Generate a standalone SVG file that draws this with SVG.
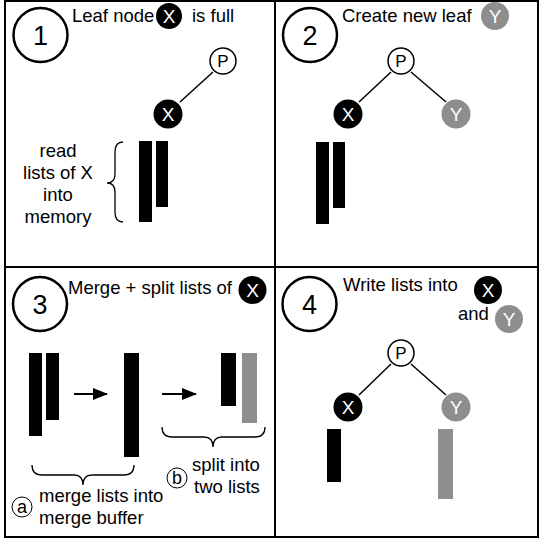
<svg xmlns="http://www.w3.org/2000/svg" width="539" height="539" viewBox="0 0 539 539">
  <style>
    text { font-family: "Liberation Sans", Arial, Helvetica, sans-serif; fill: #000; }
    .frame { fill: none; stroke: #000; stroke-width: 2; }
    .step { fill: #fff; stroke: #000; stroke-width: 2.5; }
    .stepnum { font-size: 27px; text-anchor: middle; }
    .label { font-size: 18.5px; }
    .mid { text-anchor: middle; }
    .nx { fill: #000; }
    .ny { fill: #8e8e8e; }
    .np { fill: #fff; stroke: #000; stroke-width: 1.5; }
    .nt { font-size: 19px; text-anchor: middle; fill: #fff; }
    .ptxt { font-size: 17px; text-anchor: middle; fill: #000; }
    .edge { stroke: #000; stroke-width: 1.5; fill: none; }
    .flow { stroke: #000; stroke-width: 2; fill: none; }
    .brace { stroke: #000; stroke-width: 1.3; fill: none; }
    .barx { fill: #000; }
    .bary { fill: #8e8e8e; }
    .tag { fill: #fff; stroke: #000; stroke-width: 1; }
    .tagt { font-size: 18px; text-anchor: middle; }
  </style>
  <defs>
    <marker id="arrow" markerWidth="15" markerHeight="12" refX="14" refY="6" orient="auto" markerUnits="userSpaceOnUse">
      <path d="M0,0 L15,6 L0,12 z" fill="#000"/>
    </marker>
  </defs>

  <rect width="539" height="539" fill="#fff"/>

  <!-- panel frame -->
  <g id="frame">
    <rect class="frame" x="5" y="1" width="533" height="536"/>
    <line class="frame" x1="275" y1="1" x2="275" y2="537"/>
    <line class="frame" x1="5" y1="267" x2="538" y2="267"/>
  </g>

  <!-- tree edges and flow arrows -->
  <g id="connectors">
    <line class="edge" x1="213" y1="72" x2="180" y2="102"/>
    <line class="edge" x1="391" y1="72" x2="359" y2="102"/>
    <line class="edge" x1="411" y1="72" x2="446" y2="102"/>
    <line class="edge" x1="391" y1="364" x2="359" y2="395"/>
    <line class="edge" x1="411" y1="364" x2="446" y2="395"/>
    <line class="flow" x1="74" y1="394" x2="107" y2="394" marker-end="url(#arrow)"/>
    <line class="flow" x1="162" y1="394" x2="196" y2="394" marker-end="url(#arrow)"/>
  </g>

  <!-- step 1 -->
  <g id="panel1">
    <circle class="step" cx="40.5" cy="35" r="27"/>
    <text class="stepnum" x="40.5" y="44.5">1</text>
    <text class="label" x="72" y="22">Leaf node</text>
    <circle class="nx" cx="169" cy="16" r="13"/>
    <text class="nt" x="169" y="23">X</text>
    <text class="label" x="192" y="22">is full</text>
    <g id="p1-P">
      <circle class="np" cx="223" cy="61" r="13"/>
      <text class="ptxt" x="223" y="67">P</text>
    </g>
    <g id="p1-X">
      <circle class="nx" cx="168" cy="114" r="14.5"/>
      <text class="nt" x="168" y="121">X</text>
    </g>
    <rect class="barx" x="139" y="141" width="13" height="81"/>
    <rect class="barx" x="156" y="141" width="12" height="66"/>
    <path class="brace" d="M123,142 Q115,142 115,152 L115,174 Q115,183 107,183 Q115,183 115,192 L115,212 Q115,222 123,222"/>
    <text class="label mid" x="58" y="157">read</text>
    <text class="label mid" x="58" y="179">lists of X</text>
    <text class="label mid" x="58" y="201">into</text>
    <text class="label mid" x="58" y="223">memory</text>
  </g>

  <!-- step 2 -->
  <g id="panel2">
    <circle class="step" cx="310" cy="35" r="27"/>
    <text class="stepnum" x="310" y="44.5">2</text>
    <text class="label" x="342" y="22">Create new leaf</text>
    <circle class="ny" cx="495" cy="16" r="14"/>
    <text class="nt" x="495" y="23">Y</text>
    <g id="p2-P">
      <circle class="np" cx="401" cy="61" r="13"/>
      <text class="ptxt" x="401" y="67">P</text>
    </g>
    <g id="p2-X">
      <circle class="nx" cx="348" cy="114" r="14.5"/>
      <text class="nt" x="348" y="121">X</text>
    </g>
    <g id="p2-Y">
      <circle class="ny" cx="456" cy="114" r="14.5"/>
      <text class="nt" x="456" y="121">Y</text>
    </g>
    <rect class="barx" x="316" y="142" width="13" height="82"/>
    <rect class="barx" x="333" y="142" width="12" height="66"/>
  </g>

  <!-- step 3 -->
  <g id="panel3">
    <circle class="step" cx="40" cy="304" r="27"/>
    <text class="stepnum" x="40" y="313.5">3</text>
    <text class="label" x="68" y="294">Merge + split lists of</text>
    <circle class="nx" cx="252.5" cy="290" r="14"/>
    <text class="nt" x="252.5" y="297">X</text>
    <rect class="barx" x="29" y="353" width="13" height="83"/>
    <rect class="barx" x="46" y="353" width="13" height="67"/>
    <rect class="barx" x="124" y="353" width="15" height="104"/>
    <rect class="barx" x="221" y="353" width="15" height="53"/>
    <rect class="bary" x="242" y="353" width="15" height="70"/>
    <path class="brace" d="M32,465 Q32,475 42,475 L74,475 Q83,475 83,485 Q83,475 92,475 L124,475 Q134,475 134,465"/>
    <path class="brace" d="M162,427 Q162,437 172,437 L204,437 Q213,437 213,447 Q213,437 222,437 L255,437 Q265,437 265,427"/>
    <circle class="tag" cx="22" cy="507" r="10"/>
    <text class="tagt" x="22" y="513">a</text>
    <text class="label" x="39" y="502">merge lists into</text>
    <text class="label" x="39" y="524">merge buffer</text>
    <circle class="tag" cx="177" cy="478" r="10"/>
    <text class="tagt" x="177" y="484">b</text>
    <text class="label" x="192" y="471">split into</text>
    <text class="label" x="194" y="493">two lists</text>
  </g>

  <!-- step 4 -->
  <g id="panel4">
    <circle class="step" cx="309.5" cy="304" r="27"/>
    <text class="stepnum" x="309.5" y="313.5">4</text>
    <text class="label" x="343" y="291">Write lists into</text>
    <circle class="nx" cx="488" cy="290" r="14"/>
    <text class="nt" x="488" y="297">X</text>
    <text class="label" x="458" y="320">and</text>
    <circle class="ny" cx="509" cy="319" r="14"/>
    <text class="nt" x="509" y="326">Y</text>
    <g id="p4-P">
      <circle class="np" cx="401" cy="353" r="13"/>
      <text class="ptxt" x="401" y="359">P</text>
    </g>
    <g id="p4-X">
      <circle class="nx" cx="348" cy="407" r="14.5"/>
      <text class="nt" x="348" y="414">X</text>
    </g>
    <g id="p4-Y">
      <circle class="ny" cx="456" cy="407" r="14.5"/>
      <text class="nt" x="456" y="414">Y</text>
    </g>
    <rect class="barx" x="327" y="429" width="14" height="53"/>
    <rect class="bary" x="438" y="429" width="15" height="70"/>
  </g>
</svg>
